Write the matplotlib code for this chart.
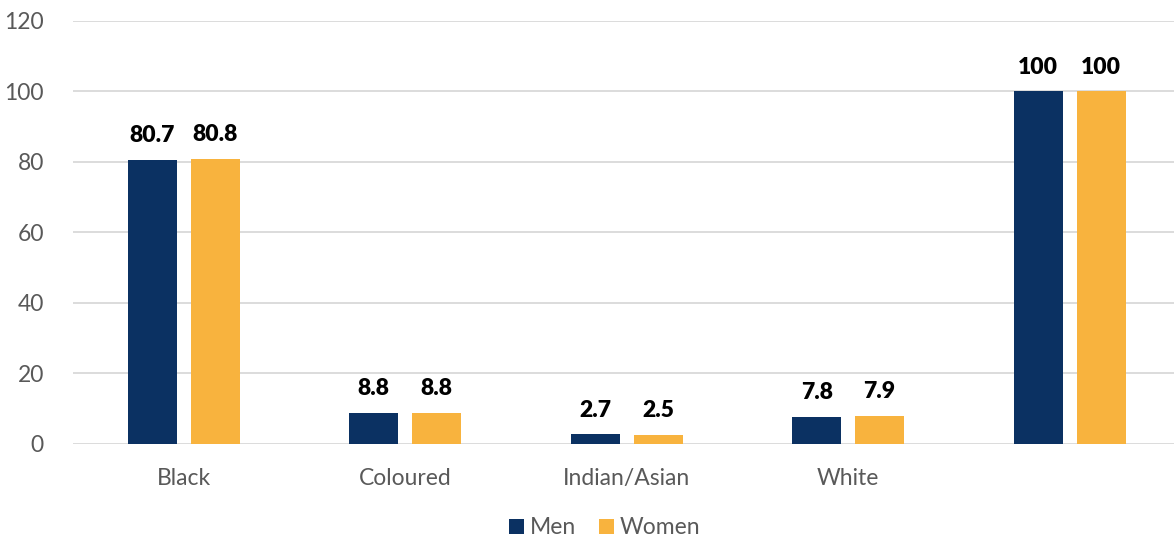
import matplotlib
matplotlib.use("Agg")
import matplotlib.pyplot as plt
import numpy as np

categories = ["Black", "Coloured", "Indian/Asian", "White", ""]
men = [80.7, 8.8, 2.7, 7.8, 100]
women = [80.8, 8.8, 2.5, 7.9, 100]
men_labels = ["80.7", "8.8", "2.7", "7.8", "100"]
women_labels = ["80.8", "8.8", "2.5", "7.9", "100"]
yticks = [0, 20, 40, 60, 80, 100, 120]

navy = "#0B3162"
gold = "#F8B33E"
gray = "#595959"

plt.rcParams["font.family"] = ["Lato", "DejaVu Sans"]

fig = plt.figure(figsize=(11.74, 5.41), dpi=100)
ax = fig.add_axes([0.0622, 0.1793, 0.9378, 0.7819])

x = np.arange(len(categories))
w = 0.221
off = 0.142
b1 = ax.bar(x - off, men, w, color=navy, label="Men", zorder=3)
b2 = ax.bar(x + off, women, w, color=gold, label="Women", zorder=3)

for bars, labels in ((b1, men_labels), (b2, women_labels)):
    for rect, lab in zip(bars, labels):
        ax.annotate(lab, (rect.get_x() + rect.get_width() / 2, rect.get_height()),
                    xytext=(0, 10), textcoords="offset points", ha="center", va="bottom",
                    fontsize=16.5, fontweight="heavy", color="black")

ax.set_ylim(0, 120)
ax.set_xlim(-0.5, 4.471)
ax.set_yticks(yticks)
ax.set_yticklabels([str(t) for t in yticks], fontsize=16.5, color=gray)
ax.set_xticks(x)
ax.set_xticklabels(categories, fontsize=16.5, color=gray)
ax.tick_params(axis="both", length=0)
ax.tick_params(axis="x", pad=17)
ax.tick_params(axis="y", pad=21)
ax.grid(axis="y", color="#d9d9d9", linewidth=1.3, zorder=0)
for s in ax.spines.values():
    s.set_visible(False)

leg = fig.legend(handles=[b1, b2], labels=["Men", "Women"], loc="center",
                 bbox_to_anchor=(605 / 1174, 1 - 528 / 541), ncol=2, frameon=False,
                 fontsize=16.5, handlelength=0.65, handleheight=0.65, handletextpad=0.25,
                 columnspacing=1.0)
for t in leg.get_texts():
    t.set_color(gray)

fig.savefig("out.png", dpi=100)
